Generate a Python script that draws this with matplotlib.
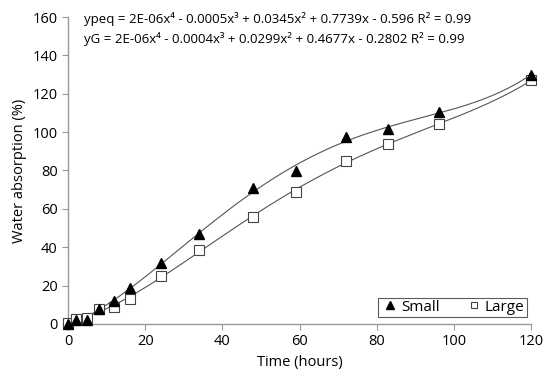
import numpy as np
import matplotlib
matplotlib.use('Agg')
import matplotlib.pyplot as plt

plt.rcParams['font.family'] = ['Open Sans', 'DejaVu Sans']

# time (hours)
hours = [0, 2, 5, 8, 12, 16, 24, 34, 48, 59, 72, 83, 96, 120]
# water absorption (%)
small = [0, 2, 2, 7.5, 12, 18.5, 32, 47, 71, 79.5, 97.5, 101.5, 110.5, 130]
large = [0.5, 2.5, 3, 7.5, 9, 13, 25, 38.5, 56, 69, 85, 94, 104, 127]

eq_small = 'ypeq = 2E-06x\u2074 - 0.0005x\u00b3 + 0.0345x\u00b2 + 0.7739x - 0.596 R\u00b2 = 0.99'
eq_large = 'yG = 2E-06x\u2074 - 0.0004x\u00b3 + 0.0299x\u00b2 + 0.4677x - 0.2802 R\u00b2 = 0.99'

fig = plt.figure(figsize=(5.58, 3.81), dpi=100)
ax = fig.add_axes([0.122, 0.15, 0.83, 0.805])

xs = np.linspace(0, 120, 300)
for vals in (small, large):
    p = np.polyfit(hours, vals, 4)
    ax.plot(xs, np.polyval(p, xs), color='#555555', lw=0.8, zorder=2)

ax.plot(hours, small, ls='none', marker='^', ms=7, color='black', label='Small',
        zorder=4, clip_on=False)
ax.plot(hours, large, ls='none', marker='s', ms=6.5, mfc='white', mec='#444444', mew=0.8,
        label='Large', zorder=3, clip_on=False)

ax.set_xlim(0, 120)
ax.set_ylim(0, 160)
ax.set_xticks(range(0, 121, 20))
ax.set_yticks(range(0, 161, 20))
for s in ('top', 'right'):
    ax.spines[s].set_visible(False)
for s in ('left', 'bottom'):
    ax.spines[s].set_color('#999999')
    ax.spines[s].set_linewidth(1)
ax.tick_params(direction='out', length=4, color='#999999', labelsize=10.5)
ax.set_xlabel('Time (hours)', fontsize=10.5)
ax.set_ylabel('Water absorption (%)', fontsize=10.5)

ax.text(0.035, 0.995, eq_small, transform=ax.transAxes, fontsize=9.5, va='center')
ax.text(0.035, 0.93, eq_large, transform=ax.transAxes, fontsize=9.5, va='center')

leg = ax.legend(loc='lower right', bbox_to_anchor=(0.997, 0.012), ncol=2, frameon=True,
                fancybox=False, edgecolor='#333333', fontsize=11, handletextpad=0.05,
                columnspacing=1.6, handlelength=1.3, borderpad=0.15, borderaxespad=0.2,
                markerscale=0.75)
leg.get_frame().set_linewidth(0.8)

fig.savefig('out.png', dpi=100)
